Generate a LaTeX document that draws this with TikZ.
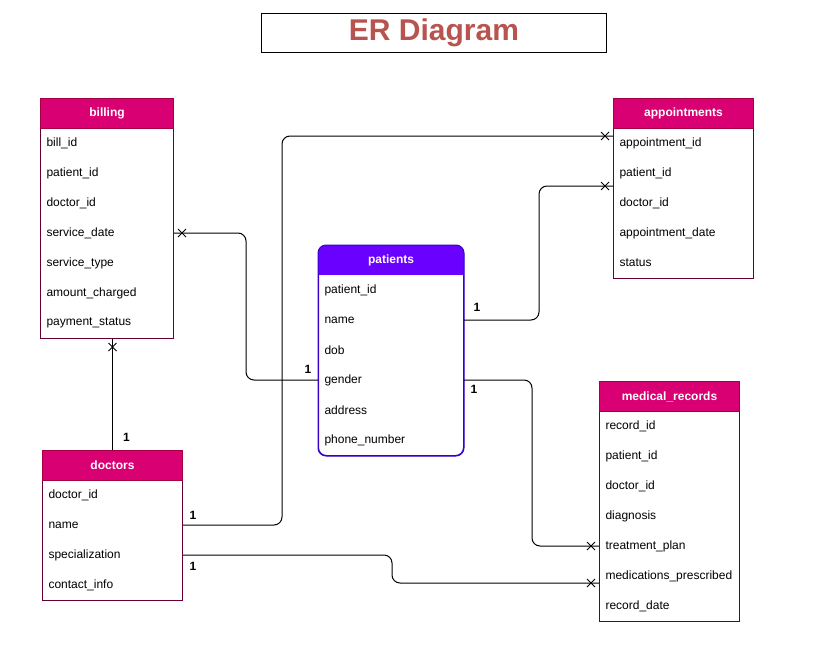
\documentclass[tikz,border=0pt]{standalone}
\usepackage{fontspec}
\setmainfont{Liberation Sans}
\usepackage{tikz}
\usetikzlibrary{calc, decorations.markings}
\definecolor{erpink}{HTML}{D80073}
\definecolor{erpinkline}{HTML}{A50040}
\definecolor{erbodyline}{HTML}{660033}
\definecolor{erviolet}{HTML}{6A00FF}
\definecolor{ervioletline}{HTML}{3700CC}
\definecolor{ertitle}{RGB}{184, 84, 80}

\begin{document}
\begin{tikzpicture}[x=1pt, y=-1pt, line width=1pt,
  every node/.style={font=\fontsize{12}{14}\selectfont},
  tblbody/.style={rectangle, draw=erbodyline, fill=white, anchor=north west, inner sep=0pt},
  tblhead/.style={rectangle, draw=erpinkline, fill=erpink, text=white, anchor=north west,
    minimum height=30pt, inner sep=0pt, font=\bfseries\fontsize{12}{14}\selectfont},
  field/.style={anchor=west, inner sep=0pt},
  one/.style={inner sep=0pt, font=\bfseries\fontsize{12}{14}\selectfont},
  rel/.style={draw=black, rounded corners=8pt, postaction={decorate, decoration={markings,
    mark=at position -8pt with {\draw[sharp corners] (-4pt,-4pt) -- (4pt,4pt) (-4pt,4pt) -- (4pt,-4pt);}}}}]
\fill[white] (0,0) rectangle (824,656);
\useasboundingbox (0,0) rectangle (824,656);

% Title
\node[draw, anchor=north west, minimum width=345pt, minimum height=39pt, inner sep=0pt,
  text=ertitle, font=\bfseries\fontsize{30}{33}\selectfont] (title) at (261,13) {\raisebox{-1.5pt}{ER Diagram}};

% billing
\node[tblbody, minimum width=133pt, minimum height=240pt] (billing) at (40,98) {};
\node[tblhead, minimum width=133pt] (billing-h) at (40,98) {billing};
\foreach \f [count=\i] in {bill\_id, patient\_id, doctor\_id, service\_date, service\_type, amount\_charged, payment\_status}
  \node[field] (billing-\i) at (46,113+30*\i) {\f};

% appointments
\node[tblbody, minimum width=140pt, minimum height=180pt] (appointments) at (613,98) {};
\node[tblhead, minimum width=140pt] (appointments-h) at (613,98) {appointments};
\foreach \f [count=\i] in {appointment\_id, patient\_id, doctor\_id, appointment\_date, status}
  \node[field] (appointments-\i) at (619,113+30*\i) {\f};

% patients (rounded)
\node[tblbody, draw=ervioletline, rounded corners=8pt, minimum width=145pt, minimum height=210pt] (patients) at (318,245) {};
\begin{scope}
  \clip[rounded corners=8pt] (patients.north west) rectangle (patients.south east);
  \fill[erviolet] (patients.north west) rectangle ($(patients.north east)+(0,30)$);
\end{scope}
\draw[ervioletline, rounded corners=8pt] (patients.north west) rectangle (patients.south east);
\node[tblhead, draw=none, fill=none, minimum width=145pt] (patients-h) at (318,245) {patients};
\foreach \f [count=\i] in {patient\_id, name, dob, gender, address, phone\_number}
  \node[field] (patients-\i) at (324,260+30*\i) {\f};

% medical_records
\node[tblbody, minimum width=140pt, minimum height=240pt] (records) at (599,381) {};
\node[tblhead, minimum width=140pt] (records-h) at (599,381) {medical\_records};
\foreach \f [count=\i] in {record\_id, patient\_id, doctor\_id, diagnosis, treatment\_plan, medications\_prescribed, record\_date}
  \node[field] (records-\i) at (605,396+30*\i) {\f};

% doctors
\node[tblbody, minimum width=140pt, minimum height=150pt] (doctors) at (42,450) {};
\node[tblhead, minimum width=140pt] (doctors-h) at (42,450) {doctors};
\foreach \f [count=\i] in {doctor\_id, name, specialization, contact\_info}
  \node[field] (doctors-\i) at (48,465+30*\i) {\f};

% Relations: "1" side first, cross at the far end
\draw[rel] (patients.west |- patients-4) -- node[one, pos=0, xshift=-10pt, yshift=11pt] {1} ++(-72,0)
  |- (billing.east |- billing-4);
\draw[rel] (doctors-h.north) -- node[one, pos=0, xshift=14pt, yshift=13pt] {1} (doctors-h.north |- billing.south);
\draw[rel] (doctors.east |- doctors-2) -- node[one, pos=0, xshift=10pt, yshift=10pt] {1} ++(99,0)
  |- ($(appointments.west |- appointments-1)+(0,-7)$);
\draw[rel] (patients.east |- patients-2) -- node[one, pos=0, xshift=13pt, yshift=13pt] {1} ++(75,0)
  |- ($(appointments.west |- appointments-2)+(0,13)$);
\draw[rel] (patients.east |- patients-4) -- node[one, pos=0, xshift=10pt, yshift=-9pt] {1} ++(68,0)
  |- (records.west |- records-5);
\draw[rel] (doctors.east |- doctors-3) -- node[one, pos=0, xshift=10pt, yshift=-11pt] {1} ++(209,0)
  |- ($(records.west |- records-6)+(0,7)$);
\end{tikzpicture}
\end{document}
